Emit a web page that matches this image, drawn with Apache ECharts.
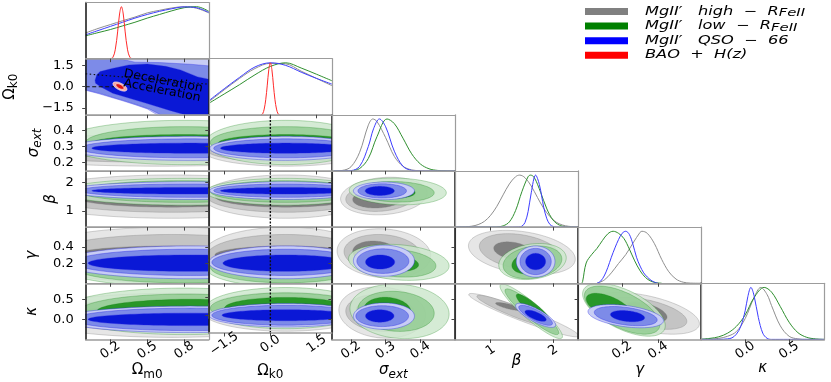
<!DOCTYPE html>
<html><head><meta charset="utf-8">
<script src="https://cdn.jsdelivr.net/npm/echarts@6/dist/echarts.min.js"></script>
<style>html,body{margin:0;padding:0;background:#fff}#c{width:831px;height:382px}</style>
</head><body><div id="c"></div>
<script>
// ---------------- DATA ----------------
const paramNames = ['Ωm0', 'Ωk0', 'σext', 'β', 'γ', 'κ'];
const axisRanges = [[0, 1], [-2, 2], [0.145, 0.5], [0.43, 2.4], [-0.045, 0.64], [-0.5, 0.9]];
const tickValues = [[0.2, 0.5, 0.8], [-1.5, 0, 1.5], [0.2, 0.3, 0.4], [1, 2], [0.2, 0.4], [0, 0.5]];
const tickLabels = [['0.2', '0.5', '0.8'], ['−1.5', '0.0', '1.5'], ['0.2', '0.3', '0.4'], ['1', '2'], ['0.2', '0.4'], ['0.0', '0.5']];

const legendLabels = ['MgII′   high  −  R', 'MgII′   low  −  R', 'MgII′   QSO  −  66', 'BAO  +  H(z)'];
const legendSubs = ['FeII', 'FeII', '', ''];
const legendColors = ['#808080', '#008000', '#0000ff', '#ff0000'];
const lineColors = ['#8f8f8f', '#2f8f2f', '#3d3dff', '#ff2a2a'];
const fillShades = [['#e6e6e6', '#c4c4c4', '#7f7f7f'], ['#cce7cc', '#90cb90', '#108a10'], ['#c8cdf5', '#7d8be8', '#0a18d6'], ['#f4a6a6', '#ee6a6a', '#dc1414']];
const fillOpacity = [1, 0.82, 1, 1];
const strokeColors = ['rgba(120,120,120,0.45)', 'rgba(0,120,0,0.45)', 'rgba(40,40,230,0.55)', 'rgba(255,255,255,0.9)'];

// 1D marginals (diagonal)
const om1_x = [0, 0.1, 0.2, 0.3, 0.4, 0.5, 0.6, 0.7, 0.8, 0.9, 1.0];
const om1_gray = [0.495, 0.58, 0.655, 0.73, 0.80, 0.88, 0.93, 0.975, 1.0, 0.97, 0.88];
const om1_green = [0.44, 0.50, 0.56, 0.63, 0.70, 0.78, 0.85, 0.92, 0.98, 1.0, 0.91];
const om1_blue = [0.46, 0.54, 0.62, 0.70, 0.78, 0.85, 0.91, 0.96, 0.995, 0.98, 0.89];
const om1_red_x = [0.2, 0.22, 0.24, 0.26, 0.275, 0.29, 0.305, 0.32, 0.34, 0.36, 0.38];
const om1_red = [0, 0.02, 0.17, 0.53, 0.86, 1.0, 0.86, 0.53, 0.17, 0.02, 0];

const ok1_x = [-2, -1.5, -1, -0.5, 0, 0.5, 1, 1.5, 2];
const ok1_gray = [0.25, 0.48, 0.70, 0.89, 0.99, 0.98, 0.84, 0.70, 0.56];
const ok1_green = [0.22, 0.40, 0.58, 0.77, 0.93, 1.0, 0.90, 0.78, 0.655];
const ok1_blue = [0.27, 0.50, 0.72, 0.92, 1.0, 0.95, 0.82, 0.70, 0.59];
const ok1_red_x = [-0.3, -0.25, -0.2, -0.15, -0.1, -0.05, 0, 0.05, 0.1, 0.15, 0.2, 0.25, 0.3];
const ok1_red = [0, 0.02, 0.11, 0.29, 0.57, 0.87, 1, 0.87, 0.57, 0.29, 0.11, 0.02, 0];

const se1_gray_x = [0.15, 0.175, 0.2, 0.225, 0.25, 0.263, 0.275, 0.3, 0.325, 0.35, 0.375, 0.4, 0.425, 0.5];
const se1_gray = [0, 0.01, 0.08, 0.36, 0.88, 1.0, 0.95, 0.64, 0.28, 0.09, 0.02, 0.005, 0, 0];
const se1_green_x = [0.15, 0.2, 0.225, 0.25, 0.275, 0.304, 0.325, 0.35, 0.375, 0.4, 0.425, 0.45, 0.475, 0.5];
const se1_green = [0, 0.005, 0.047, 0.24, 0.66, 1.0, 0.91, 0.63, 0.33, 0.135, 0.042, 0.01, 0.002, 0];
const se1_blue_x = [0.15, 0.2, 0.225, 0.25, 0.265, 0.282, 0.3, 0.325, 0.35, 0.375, 0.4, 0.5];
const se1_blue = [0, 0.007, 0.09, 0.47, 0.81, 1.0, 0.85, 0.38, 0.09, 0.011, 0, 0];

const be1_gray_x = [0.45, 0.6, 0.7, 0.8, 0.9, 1.0, 1.1, 1.2, 1.3, 1.4, 1.465, 1.55, 1.65, 1.75, 1.85, 1.95, 2.05, 2.15, 2.25, 2.4];
const be1_gray = [0.001, 0.006, 0.018, 0.048, 0.11, 0.227, 0.40, 0.62, 0.83, 0.97, 1.0, 0.95, 0.79, 0.57, 0.36, 0.2, 0.095, 0.04, 0.015, 0.003];
const be1_green_x = [0.45, 1.0, 1.1, 1.2, 1.3, 1.4, 1.5, 1.6, 1.64, 1.7, 1.8, 1.9, 2.0, 2.1, 2.2, 2.3, 2.4];
const be1_green = [0, 0, 0.003, 0.023, 0.10, 0.32, 0.68, 0.97, 1.0, 0.95, 0.67, 0.35, 0.135, 0.038, 0.008, 0.001, 0];
const be1_blue_x = [0.45, 1.35, 1.45, 1.5, 1.55, 1.6, 1.65, 1.72, 1.78, 1.85, 1.9, 1.95, 2.0, 2.05, 2.1, 2.4];
const be1_blue = [0, 0, 0.002, 0.017, 0.088, 0.30, 0.66, 1.0, 0.82, 0.38, 0.16, 0.05, 0.012, 0.002, 0, 0];

const ga1_gray_x = [0.06, 0.1, 0.14, 0.18, 0.22, 0.26, 0.3, 0.31, 0.34, 0.38, 0.42, 0.46, 0.5, 0.54, 0.58, 0.64];
const ga1_gray = [0, 0.06, 0.2, 0.38, 0.55, 0.77, 0.98, 1.0, 0.96, 0.76, 0.46, 0.22, 0.08, 0.02, 0.003, 0];
const ga1_green_x = [-0.025, -0.02, 0.0, 0.03, 0.06, 0.09, 0.12, 0.15, 0.18, 0.21, 0.24, 0.27, 0.3, 0.33, 0.36, 0.39, 0.42];
const ga1_green = [0, 0.03, 0.39, 0.55, 0.67, 0.82, 0.95, 1.0, 0.96, 0.86, 0.66, 0.43, 0.24, 0.11, 0.04, 0.01, 0];
const ga1_blue_x = [0.06, 0.08, 0.1, 0.12, 0.14, 0.16, 0.18, 0.2, 0.22, 0.24, 0.26, 0.28, 0.3, 0.32, 0.34, 0.36, 0.38, 0.4];
const ga1_blue = [0, 0.04, 0.14, 0.3, 0.5, 0.68, 0.84, 0.96, 1.0, 0.94, 0.75, 0.5, 0.33, 0.2, 0.12, 0.06, 0.02, 0];

const ka1_gray_x = [-0.5, -0.45, -0.3, -0.2, -0.1, 0, 0.1, 0.178, 0.25, 0.3, 0.4, 0.5, 0.6, 0.7, 0.9];
const ka1_gray = [0, 0, 0.02, 0.06, 0.15, 0.4, 0.8, 1.0, 0.86, 0.65, 0.26, 0.06, 0.01, 0, 0];
const ka1_green_x = [-0.5, -0.4, -0.3, -0.2, -0.1, 0, 0.1, 0.216, 0.3, 0.4, 0.5, 0.6, 0.7, 0.8, 0.9];
const ka1_green = [0.005, 0.02, 0.05, 0.12, 0.25, 0.47, 0.8, 1.0, 0.91, 0.63, 0.33, 0.13, 0.04, 0.01, 0];
const ka1_blue_x = [-0.5, -0.3, -0.2, -0.15, -0.1, -0.05, 0, 0.03, 0.065, 0.1, 0.15, 0.2, 0.25, 0.3, 0.9];
const ka1_blue = [0, 0, 0.01, 0.03, 0.1, 0.25, 0.55, 0.82, 1.0, 0.85, 0.42, 0.12, 0.02, 0, 0];

// 2D contours: per dataset three levels (outer, middle, inner): [cx, cy, rx, ry, rho]
const ell_se_om = {
  gray: [[0.6, 0.275, 1.5, 0.1, 0], [0.6, 0.275, 1.3, 0.075, 0], [0.6, 0.275, 1.0, 0.045, 0]],
  green: [[0.8, 0.325, 1.0, 0.14, 0], [0.8, 0.325, 0.8, 0.1, 0], [0.8, 0.32, 0.75, 0.055, 0]],
  blue: [[0.85, 0.288, 1.0, 0.076, 0], [0.85, 0.288, 0.9, 0.06, 0], [0.85, 0.289, 0.8, 0.032, 0]]
};
const ell_se_ok = {
  gray: [[0.5, 0.275, 2.7, 0.1, 0], [0.5, 0.275, 2.55, 0.075, 0], [0.5, 0.275, 2.3, 0.045, 0]],
  green: [[0.5, 0.325, 2.6, 0.14, 0], [0.5, 0.325, 2.45, 0.1, 0], [0.5, 0.32, 2.2, 0.055, 0]],
  blue: [[0.5, 0.288, 2.47, 0.076, 0], [0.5, 0.288, 2.34, 0.06, 0], [0.5, 0.289, 2.12, 0.032, 0]]
};
const ell_be_om = {
  gray: [[0.7, 1.5, 1.2, 0.76, 0], [0.7, 1.5, 1.0, 0.55, 0], [0.7, 1.5, 0.8, 0.37, 0]],
  green: [[0.8, 1.67, 1.0, 0.47, 0], [0.8, 1.68, 0.85, 0.38, 0], [0.8, 1.68, 0.78, 0.26, 0]],
  blue: [[0.85, 1.71, 1.0, 0.31, 0], [0.85, 1.71, 0.9, 0.235, 0], [0.85, 1.705, 0.8, 0.115, 0]]
};
const ell_be_ok = {
  gray: [[0.5, 1.5, 2.7, 0.76, 0], [0.5, 1.5, 2.55, 0.55, 0], [0.5, 1.5, 2.3, 0.37, 0]],
  green: [[0.5, 1.67, 2.6, 0.47, 0], [0.5, 1.68, 2.45, 0.38, 0], [0.5, 1.68, 2.2, 0.26, 0]],
  blue: [[0.5, 1.71, 2.47, 0.31, 0], [0.5, 1.71, 2.34, 0.235, 0], [0.5, 1.705, 2.12, 0.115, 0]]
};
const ell_be_se = {
  gray: [[0.295, 1.52, 0.125, 0.66, 0.15], [0.285, 1.48, 0.1, 0.5, 0.15], [0.28, 1.45, 0.075, 0.35, 0.15]],
  green: [[0.335, 1.68, 0.14, 0.47, -0.1], [0.33, 1.67, 0.11, 0.36, -0.1], [0.32, 1.66, 0.065, 0.22, -0.1]],
  blue: [[0.295, 1.7, 0.088, 0.31, 0], [0.29, 1.7, 0.07, 0.25, 0], [0.283, 1.7, 0.042, 0.16, 0]]
};
const ell_ga_om = {
  gray: [[0.7, 0.3, 1.2, 0.34, 0], [0.7, 0.3, 1.0, 0.25, 0], [0.7, 0.3, 0.8, 0.11, 0]],
  green: [[0.8, 0.15, 1.0, 0.24, 0], [0.8, 0.15, 0.9, 0.19, 0], [0.8, 0.15, 0.8, 0.11, 0]],
  blue: [[0.85, 0.21, 1.05, 0.2, 0], [0.85, 0.21, 0.95, 0.16, 0], [0.85, 0.2, 0.83, 0.1, 0]]
};
const ell_ga_ok = {
  gray: [[0.5, 0.3, 2.7, 0.34, 0], [0.5, 0.3, 2.55, 0.25, 0], [0.5, 0.3, 2.3, 0.11, 0]],
  green: [[0.5, 0.15, 2.6, 0.24, 0], [0.5, 0.15, 2.45, 0.19, 0], [0.5, 0.15, 2.2, 0.11, 0]],
  blue: [[0.5, 0.21, 2.5, 0.2, 0], [0.5, 0.21, 2.4, 0.16, 0], [0.5, 0.2, 2.04, 0.1, 0]]
};
const ell_ga_se = {
  gray: [[0.295, 0.32, 0.135, 0.3, -0.1], [0.29, 0.32, 0.11, 0.23, -0.1], [0.27, 0.33, 0.065, 0.14, -0.1]],
  green: [[0.338, 0.21, 0.145, 0.22, -0.2], [0.335, 0.2, 0.11, 0.17, -0.2], [0.33, 0.2, 0.065, 0.1, -0.2]],
  blue: [[0.295, 0.23, 0.088, 0.19, 0], [0.292, 0.225, 0.075, 0.15, 0], [0.284, 0.214, 0.042, 0.086, 0]]
};
const ell_ga_be = {
  gray: [[1.5, 0.33, 0.855, 0.27, -0.3], [1.47, 0.34, 0.65, 0.22, -0.3], [1.36, 0.35, 0.31, 0.11, -0.3]],
  green: [[1.67, 0.22, 0.54, 0.22, 0.2], [1.67, 0.21, 0.47, 0.2, 0.2], [1.62, 0.2, 0.28, 0.13, 0.2]],
  blue: [[1.72, 0.22, 0.31, 0.19, 0], [1.72, 0.22, 0.25, 0.16, 0], [1.72, 0.22, 0.16, 0.1, 0]]
};
const ell_ka_om = {
  gray: [[0.7, 0.1, 1.2, 0.55, 0], [0.7, 0.1, 1.0, 0.42, 0], [0.7, 0.1, 0.8, 0.28, 0]],
  green: [[0.8, 0.2, 1.0, 0.58, 0], [0.8, 0.2, 0.85, 0.43, 0], [0.85, 0.2, 0.76, 0.3, 0]],
  blue: [[0.85, 0.0, 1.05, 0.33, 0], [0.85, 0.0, 0.95, 0.28, 0], [0.85, 0.0, 0.83, 0.155, 0]]
};
const ell_ka_ok = {
  gray: [[0.5, 0.1, 2.7, 0.55, 0], [0.5, 0.1, 2.55, 0.42, 0], [0.5, 0.1, 2.3, 0.28, 0]],
  green: [[0.5, 0.2, 2.6, 0.58, 0], [0.5, 0.2, 2.45, 0.43, 0], [0.5, 0.2, 1.99, 0.3, 0]],
  blue: [[0.5, 0.0, 2.5, 0.33, 0], [0.5, 0.0, 2.4, 0.28, 0], [0.5, 0.0, 2.07, 0.155, 0]]
};
const ell_ka_se = {
  gray: [[0.29, 0.17, 0.125, 0.64, -0.1], [0.285, 0.16, 0.1, 0.46, -0.1], [0.275, 0.2, 0.06, 0.28, -0.1]],
  green: [[0.34, 0.2, 0.143, 0.68, -0.1], [0.33, 0.2, 0.11, 0.5, -0.1], [0.305, 0.22, 0.068, 0.33, -0.1]],
  blue: [[0.295, 0.08, 0.088, 0.33, 0], [0.29, 0.08, 0.076, 0.26, 0], [0.283, 0.084, 0.041, 0.155, 0]]
};
const ell_ka_be = {
  gray: [[1.53, 0.105, 0.88, 0.54, -0.95], [1.37, 0.21, 0.59, 0.39, -0.93], [1.29, 0.32, 0.21, 0.1, -0.8]],
  green: [[1.65, 0.2, 0.5, 0.68, -0.92], [1.66, 0.19, 0.43, 0.57, -0.92], [1.7, 0.24, 0.29, 0.39, -0.9]],
  blue: [[1.72, 0.1, 0.32, 0.3, -0.8], [1.72, 0.1, 0.27, 0.25, -0.8], [1.72, 0.09, 0.17, 0.14, -0.7]]
};
const ell_ka_ga = {
  gray: [[0.33, 0.15, 0.3, 0.52, -0.5], [0.33, 0.15, 0.23, 0.4, -0.5], [0.33, 0.18, 0.12, 0.25, -0.5]],
  green: [[0.21, 0.24, 0.23, 0.66, -0.6], [0.2, 0.23, 0.21, 0.6, -0.6], [0.13, 0.3, 0.13, 0.35, -0.6]],
  blue: [[0.22, 0.08, 0.21, 0.29, -0.4], [0.22, 0.08, 0.175, 0.24, -0.4], [0.23, 0.08, 0.095, 0.14, -0.3]]
};

// Omega_m0 - Omega_k0 panel (QSO contours as regions, BAO ellipses)
const okom_blueOuter = [[-0.05, 2.1], [1.05, 2.1], [1.05, -2.1], [0.6, -2.1], [0.5, -1.58], [0.4, -1.28], [0.3, -1.0], [0.2, -0.74], [0.1, -0.48], [0, -0.25], [-0.05, -0.15]];
const okom_blueMid = [[-0.05, 2.1], [0.22, 2.1], [0.4, 1.75], [0.6, 1.72], [0.85, 1.6], [1.05, 1.45], [1.05, -2.1], [0.63, -2.1], [0.52, -1.6], [0.42, -1.3], [0.32, -1.02], [0.22, -0.76], [0.12, -0.49], [0.02, -0.27], [-0.05, -0.12]];
const okom_blueInner = [[0.076, 0.47], [0.09, 0.85], [0.117, 1.08], [0.215, 1.3], [0.35, 1.55], [0.5, 1.62], [0.65, 1.45], [0.77, 1.2], [0.91, 0.7], [1.05, 0.45], [1.05, -2.1], [0.85, -2.1], [0.69, -1.71], [0.5, -1.2], [0.22, -0.47], [0.12, 0.0], [0.08, 0.25]];
const okom_red = [[0.278, 0.015, 0.057, 0.33, -0.6], [0.278, 0.015, 0.033, 0.2, -0.6]];
const qLine = [[0, 0.92], [1, 0.18]];
const flatLine = [[0, 0], [0.23, 0]];
const regionTexts = ['Deceleration', 'Acceleration'];
const regionTextPos = [[0.63, 0.4], [0.62, -0.28]];

// ---------------- BUILD ----------------
const FONT = 'DejaVu Sans';
const PW = 123.1, PH = 56.15;
const colX = c => 85.7 + PW * c;
const rowY = r => 2.5 + PH * r;
const grids = [], xAxes = [], yAxes = [], series = [];

function fmt(i) {
  return v => { const k = tickValues[i].findIndex(t => Math.abs(t - v) < 1e-9); return k >= 0 ? tickLabels[i][k] : ''; };
}
const rich = {
  a: { fontFamily: FONT, fontSize: 15, color: '#000', lineHeight: 20, verticalAlign: 'middle' },
  i: { fontFamily: FONT, fontSize: 15, fontStyle: 'italic', color: '#000', lineHeight: 20, verticalAlign: 'middle' },
  s: { fontFamily: FONT, fontSize: 12, color: '#000', lineHeight: 20, verticalAlign: 'bottom' },
  si: { fontFamily: FONT, fontSize: 12, fontStyle: 'italic', color: '#000', lineHeight: 20, verticalAlign: 'bottom' }
};
const richNames = ['{a|Ω}{s|m0}', '{a|Ω}{s|k0}', '{i|σ}{si|ext}', '{i|β}', '{i|γ}', '{i|κ}'];
const xNameGap = [21, 28, 21, 12, 21, 19];
const yNameGap = [0, 66, 42, 25, 44, 44];

function addPanel(r, c, diag) {
  const gi = grids.length;
  grids.push({ left: colX(c), top: rowY(r), width: PW, height: PH, show: false });
  const bottom = r === 5;
  xAxes.push({
    gridIndex: gi, type: 'value', position: 'bottom', min: axisRanges[c][0], max: axisRanges[c][1], z: 10,
    axisLine: { show: true, onZero: false, lineStyle: { color: '#9c9c9c', width: 1.5 } },
    axisTick: { show: true, inside: false, length: 3.5, customValues: tickValues[c], lineStyle: { color: '#444', width: 1 } },
    axisLabel: { show: bottom, customValues: tickValues[c], formatter: fmt(c), rotate: 35, align: 'center', verticalAlign: 'middle', margin: 11, fontFamily: FONT, fontSize: 13, color: '#000' },
    splitLine: { show: false },
    name: bottom ? richNames[c] : '', nameLocation: 'middle', nameGap: xNameGap[c], nameMoveOverlap: false,
    nameTextStyle: { rich: rich }
  });
  xAxes.push({
    gridIndex: gi, type: 'value', position: 'top', min: axisRanges[c][0], max: axisRanges[c][1], z: 10,
    axisLine: { show: true, onZero: false, lineStyle: { color: '#9c9c9c', width: 1.2 } },
    axisTick: { show: false }, axisLabel: { show: false }, splitLine: { show: false }
  });
  const yr = diag ? [0, 1.08] : axisRanges[r];
  const showY = !diag && c === 0;
  yAxes.push({
    gridIndex: gi, type: 'value', position: 'left', min: yr[0], max: yr[1], z: 10,
    axisLine: { show: true, onZero: false, lineStyle: { color: '#111', width: 1.5 } },
    axisTick: { show: !diag, inside: false, length: 3.5, customValues: diag ? undefined : tickValues[r], lineStyle: { color: '#444', width: 1 } },
    axisLabel: { show: showY, customValues: diag ? undefined : tickValues[r], formatter: diag ? '' : fmt(r), margin: 12, fontFamily: FONT, fontSize: 13, color: '#000' },
    splitLine: { show: false },
    name: showY ? richNames[r] : '', nameLocation: 'middle', nameGap: yNameGap[r], nameRotate: 90, nameMoveOverlap: false,
    nameTextStyle: { rich: rich }
  });
  yAxes.push({
    gridIndex: gi, type: 'value', position: 'right', min: yr[0], max: yr[1], z: 10,
    axisLine: { show: true, onZero: false, lineStyle: { color: '#9c9c9c', width: 1.2 } },
    axisTick: { show: false }, axisLabel: { show: false }, splitLine: { show: false }
  });
  return gi;
}

function ellipseRender(params, api) {
  const cx = api.value(0), cy = api.value(1), rx = api.value(2), ry = api.value(3), rho = api.value(4);
  const ds = api.value(5), lv = api.value(6);
  const s = Math.sqrt(1 - rho * rho);
  const pts = [];
  for (let k = 0; k < 120; k++) {
    const t = Math.PI * 2 * k / 120;
    pts.push(api.coord([cx + rx * Math.cos(t), cy + ry * (rho * Math.cos(t) + s * Math.sin(t))]));
  }
  return { type: 'polygon', shape: { points: pts }, style: { fill: fillShades[ds][lv], stroke: strokeColors[ds], lineWidth: 0.7, opacity: fillOpacity[ds] } };
}

function addContours(gi, ell) {
  const data = [];
  ['gray', 'green', 'blue'].forEach((k, ds) => ell[k].forEach((e, lv) => data.push(e.concat([ds, lv]))));
  series.push({ type: 'custom', xAxisIndex: 2 * gi, yAxisIndex: 2 * gi, clip: true, renderItem: ellipseRender, data: data, z: 2, silent: true });
}

function addCurve(gi, xs, ys, ds) {
  series.push({
    type: 'line', xAxisIndex: 2 * gi, yAxisIndex: 2 * gi, data: xs.map((x, i) => [x, ys[i]]),
    smooth: 0.35, showSymbol: false, clip: true, silent: true,
    lineStyle: { color: lineColors[ds], width: 1 }, z: 3
  });
}

// diagonal panels
const diagCurves = [
  [[om1_x, om1_gray, 0], [om1_x, om1_green, 1], [om1_x, om1_blue, 2], [om1_red_x, om1_red, 3]],
  [[ok1_x, ok1_gray, 0], [ok1_x, ok1_green, 1], [ok1_x, ok1_blue, 2], [ok1_red_x, ok1_red, 3]],
  [[se1_gray_x, se1_gray, 0], [se1_green_x, se1_green, 1], [se1_blue_x, se1_blue, 2]],
  [[be1_gray_x, be1_gray, 0], [be1_green_x, be1_green, 1], [be1_blue_x, be1_blue, 2]],
  [[ga1_gray_x, ga1_gray, 0], [ga1_green_x, ga1_green, 1], [ga1_blue_x, ga1_blue, 2]],
  [[ka1_gray_x, ka1_gray, 0], [ka1_green_x, ka1_green, 1], [ka1_blue_x, ka1_blue, 2]]
];
diagCurves.forEach((curves, d) => {
  const gi = addPanel(d, d, true);
  curves.forEach(cv => addCurve(gi, cv[0], cv[1], cv[2]));
});

// Omega_m0 - Omega_k0 special panel
(function () {
  const gi = addPanel(1, 0, false);
  const polys = [okom_blueOuter, okom_blueMid, okom_blueInner];
  series.push({
    type: 'custom', xAxisIndex: 2 * gi, yAxisIndex: 2 * gi, clip: true, silent: true, z: 2,
    data: polys.map((p, i) => [i]),
    renderItem: (params, api) => {
      const i = api.value(0);
      return { type: 'polygon', shape: { points: polys[i].map(p => api.coord(p)) }, style: { fill: fillShades[2][i], stroke: strokeColors[2], lineWidth: 0.6 } };
    }
  });
  series.push({
    type: 'custom', xAxisIndex: 2 * gi, yAxisIndex: 2 * gi, clip: true, silent: true, z: 3,
    data: okom_red.map((e, lv) => e.concat([3, lv === 0 ? 0 : 2])), renderItem: ellipseRender
  });
  series.push({ type: 'line', xAxisIndex: 2 * gi, yAxisIndex: 2 * gi, data: qLine, showSymbol: false, silent: true, z: 4, lineStyle: { color: '#111', width: 1.2, type: [1.5, 2.5] } });
  series.push({ type: 'line', xAxisIndex: 2 * gi, yAxisIndex: 2 * gi, data: flatLine, showSymbol: false, silent: true, z: 4, lineStyle: { color: '#111', width: 1.2, type: [4, 2.5] } });
  series.push({
    type: 'custom', xAxisIndex: 2 * gi, yAxisIndex: 2 * gi, silent: true, z: 5,
    data: regionTextPos.map((p, i) => [p[0], p[1], i]),
    renderItem: (params, api) => {
      const pt = api.coord([api.value(0), api.value(1)]);
      return { type: 'text', x: pt[0], y: pt[1], rotation: -11 * Math.PI / 180, scaleX: 1.05, style: { text: regionTexts[api.value(2)], font: '12px "DejaVu Sans"', fill: '#000', align: 'center', verticalAlign: 'middle' } };
    }
  });
})();

// other lower-triangle panels
const panels2D = [
  [2, 0, ell_se_om], [2, 1, ell_se_ok],
  [3, 0, ell_be_om], [3, 1, ell_be_ok], [3, 2, ell_be_se],
  [4, 0, ell_ga_om], [4, 1, ell_ga_ok], [4, 2, ell_ga_se], [4, 3, ell_ga_be],
  [5, 0, ell_ka_om], [5, 1, ell_ka_ok], [5, 2, ell_ka_se], [5, 3, ell_ka_be], [5, 4, ell_ka_ga]
];
panels2D.forEach(p => {
  const gi = addPanel(p[0], p[1], false);
  addContours(gi, p[2]);
  if (p[1] === 1) {
    series.push({ type: 'line', xAxisIndex: 2 * gi, yAxisIndex: 2 * gi, data: [[0, axisRanges[p[0]][0]], [0, axisRanges[p[0]][1]]], showSymbol: false, silent: true, z: 4, lineStyle: { color: '#111', width: 1.4, type: [2, 1.5] } });
  }
});

// legend (graphic)
const graphic = [];
legendLabels.forEach((lab, i) => {
  graphic.push({ type: 'rect', left: 585, top: 8 + 14.6 * i, shape: { width: 43, height: 7 }, style: { fill: legendColors[i] }, silent: true });
  const txt = legendSubs[i] ? '{t|' + lab + '}{s|' + legendSubs[i] + '}' : '{t|' + lab + '}';
  graphic.push({
    type: 'text', x: 645, y: 11.5 + 14.6 * i, scaleX: 1.35, silent: true,
    style: {
      text: txt, verticalAlign: 'middle', align: 'left',
      rich: {
        t: { fontFamily: FONT, fontSize: 12, fontStyle: 'italic', fill: '#000', lineHeight: 15, verticalAlign: 'middle' },
        s: { fontFamily: FONT, fontSize: 11, fontStyle: 'italic', fill: '#000', lineHeight: 15, verticalAlign: 'bottom' }
      }
    }
  });
});

const chart = echarts.init(document.getElementById('c'), null, { renderer: 'canvas' });
chart.setOption({
  animation: false,
  backgroundColor: '#fff',
  grid: grids, xAxis: xAxes, yAxis: yAxes, series: series, graphic: graphic
});
</script></body></html>
